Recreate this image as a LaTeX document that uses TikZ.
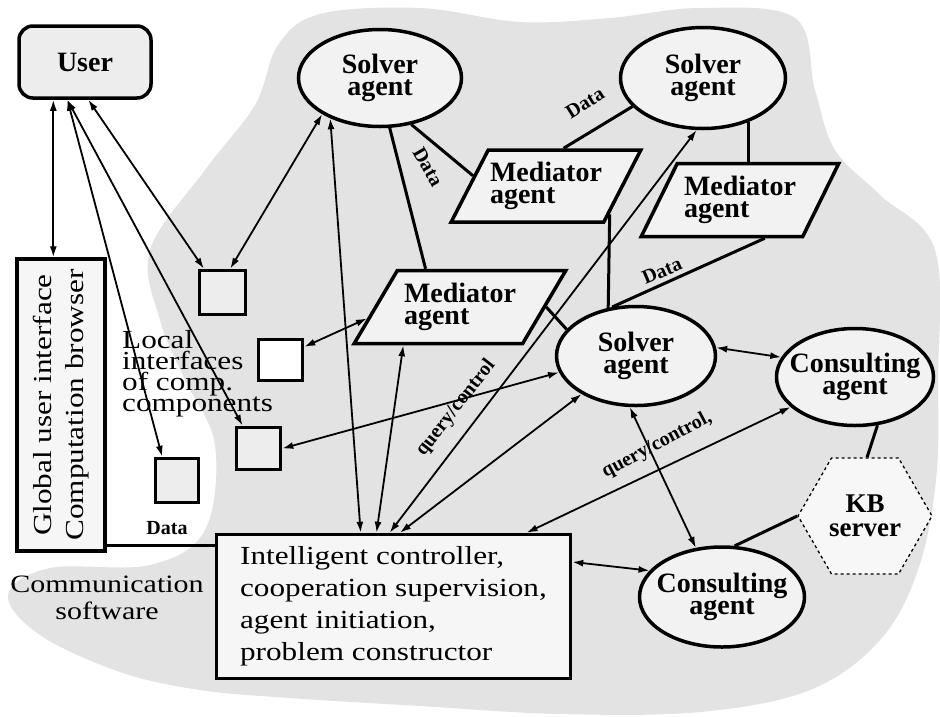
\documentclass[tikz,border=0pt]{standalone}
\usepackage{fontspec}
\setmainfont{Liberation Serif}
\newfontfamily\widefont[FakeStretch=1.2]{Liberation Serif}
\usetikzlibrary{shapes.geometric,arrows.meta}
\begin{document}
\begin{tikzpicture}[x=1pt,y=-1pt,
  every node/.style={inner sep=0pt},
  lbl/.style={font=\fontsize{28}{22}\selectfont\bfseries, align=center},
  agent/.style={ellipse, draw, line width=3.5pt, fill=gray!10, lbl},
  med/.style={trapezium, trapezium stretches=true, draw, line width=3.5pt, fill=gray!10, lbl, align=left},
  lbox/.style={rectangle, draw, line width=3.5pt, fill=gray!14},
  link/.style={line width=3pt},
  arr/.style={line width=1.8pt, {Latex[length=11pt,width=7pt]}-{Latex[length=11pt,width=7pt]}},
  small/.style={font=\fontsize{20}{20}\selectfont\bfseries},
  plain/.style={font=\widefont\fontsize{26}{32}\selectfont},
]
\useasboundingbox (0,0) rectangle (940,716);
\fill[white] (0,0) rectangle (940,716);
% stippled background region
\fill[gray!22] plot[smooth cycle, tension=0.6] coordinates {
 (150,250) (205,170) (255,105) (278,45) (320,14) (420,8) (520,22) (610,18)
 (700,8) (795,18) (815,90) (835,150) (880,195) (935,250) (938,380) (936,480)
 (918,570) (880,640) (810,690) (700,712) (560,714) (420,706) (290,698)
 (200,690) (120,672) (40,635) (8,595) (50,568) (150,565) (205,530) (215,445)
 (185,380) (160,320)};

% nodes
\node[lbox, rounded corners=14pt, minimum width=132, minimum height=72, lbl] (User) at (85,62) {User};
\node[agent, minimum width=163, minimum height=97] (solverA) at (380,78) {Solver\\agent};
\node[agent, minimum width=165, minimum height=101] (solverB) at (703,78) {Solver\\agent};
\node[agent, minimum width=159, minimum height=99] (solverC) at (636,356) {Solver\\agent};
\node[agent, inner xsep=-15pt, minimum width=157, minimum height=97] (consA) at (855,377) {Consulting\\agent};
\node[agent, inner xsep=-15pt, minimum width=165, minimum height=100] (consB) at (722,597) {Consulting\\agent};
\node[med, trapezium left angle=53, trapezium right angle=127, minimum width=190, minimum height=72] (medA) at (546,186) {Mediator\\agent};
\node[med, trapezium left angle=56, trapezium right angle=124, minimum width=198, minimum height=73] (medB) at (740,200) {Mediator\\agent};
\node[med, trapezium left angle=51, trapezium right angle=129, minimum width=212, minimum height=73] (medC) at (460,307) {Mediator\\agent};
\node[regular polygon, regular polygon sides=6, minimum size=134, draw, dashed, line width=1.3pt, fill=gray!6, font=\fontsize{27}{24}\selectfont\bfseries, align=center] (KB) at (865,516) {KB\\server};

\node[lbox, minimum width=46, minimum height=44] (boxA) at (222.5,292.5) {};
\node[lbox, fill=white, minimum width=44, minimum height=41] (boxB) at (280.5,360) {};
\node[lbox, minimum width=44, minimum height=42] (boxC) at (258.5,448.5) {};
\node[lbox, minimum width=43, minimum height=44] (boxD) at (177,480.5) {};

\node[lbox, fill=gray!7, minimum width=88, minimum height=292] (Global) at (61,405) {};
\node[plain, rotate=90, align=center] (globaltext) at (Global) {Global user interface\\Computation browser};
\node[lbox, fill=gray!7, minimum width=354, minimum height=144, plain, align=left] (ctrl) at (393.5,606.5)
 {Intelligent controller,\\cooperation supervision,\\agent initiation,\\problem constructor};

\node[plain, font=\widefont\fontsize{26}{21}\selectfont, align=left, anchor=north west] (local) at (122,330) {Local\\interfaces\\of comp.\\components};
\node[plain, font=\widefont\fontsize{25}{27}\selectfont, align=center] (comm) at (107,598) {Communication\\software};

% labels
\node[small] (dataD) at (167,528) {Data};
\node[small, rotate=-60] (dataA) at (428,167) {Data};
\node[small, rotate=32] (dataB) at (585,103) {Data};
\node[small, rotate=23] (dataC) at (662,271) {Data};
\node[small, rotate=52] (qc1) at (456,408) {query/control};
\node[small, rotate=28] (qc2) at (657,445) {query/control,};

% plain links
\draw[link] (solverA.304) -- (medA.172);
\draw[link] (solverA.281) -- (medC.132);
\draw[link] (medA.65) -- (solverB.202);
\draw[link] (medA.336) -- (solverC.120);
\draw[link] (solverB.316) -- (solverB.316 |- medB.north);
\draw[link] (medC.east) -- (solverC.159);
\draw[link] (solverC.116) -- (medB.303);
\draw[link] (consA.295) -- (KB.88);
\draw[link] (consB.76) -- (KB.180);
\draw[link] (Global.288) -- (Global.288 -| ctrl.west);

% arrows
\draw[arr] (User.230) -- (User.230 |- Global.north);
\draw[arr] (User.245) -- (boxD.122);
\draw[arr] (User.245) -- (boxC.125);
\draw[arr] (User.275) -- (boxA.128);
\draw[arr] (solverA.212) -- (boxA.72);
\draw[arr] (boxB.29) -- (medC.187);
\draw[arr] (boxC.east) -- (solverC.192);
\draw[arr] (solverA.219) -- (ctrl.114);
\draw[arr] (medC.214) -- (ctrl.103);
\draw[arr] (solverB.263) -- (ctrl.93);
\draw[arr] (solverC.215) -- (ctrl.85);
\draw[arr] (consA.205) -- (ctrl.29);
\draw[arr] (solverC.6) -- (consA.165);
\draw[arr] (solverC.263) -- (consB.118);
\draw[arr] (ctrl.14) -- (consB.160);
\end{tikzpicture}
\end{document}
